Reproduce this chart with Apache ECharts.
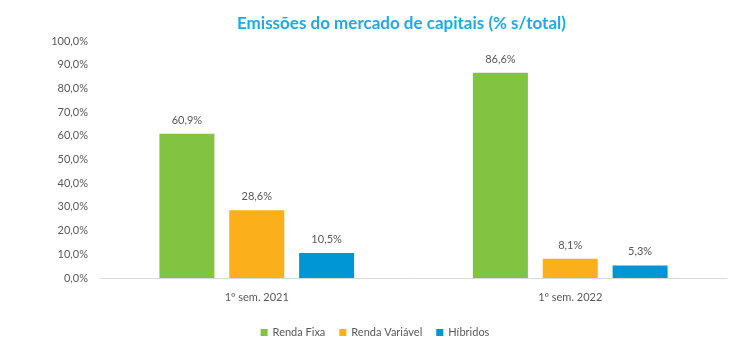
<!DOCTYPE html>
<html><head><meta charset="utf-8">
<script src="https://cdn.jsdelivr.net/npm/echarts@6/dist/echarts.min.js"></script>
<style>html,body{margin:0;padding:0;background:#fff}#c{width:750px;height:355px}</style>
</head><body><div id="c"></div>
<script>
const categories = ['1º sem. 2021', '1º sem. 2022'];
const rendaFixa = [60.9, 86.6];
const rendaVariavel = [28.6, 8.1];
const hibridos = [10.5, 5.3];
const seriesNames = ['Renda Fixa', 'Renda Variável', 'Híbridos'];
const colors = ['#82C341', '#FBAF1A', '#0096D6'];
const fmt = v => v.toFixed(1).replace('.', ',') + '%';
const FONT = 'Lato, "Open Sans", sans-serif';
const chart = echarts.init(document.getElementById('c'));
const mk = (name, data, color) => ({
  name, type: 'bar', data, barWidth: 55, barGap: '27%',
  itemStyle: { color },
  label: { show: true, position: 'top', distance: 8, formatter: p => fmt(p.value), color: '#595959', fontSize: 11, fontFamily: FONT }
});
chart.setOption({
  animation: false,
  title: { text: 'Emissões do mercado de capitais (% s/total)', left: 232, top: 10,
    textStyle: { color: '#1AABEF', fontSize: 17, fontWeight: 'bold', fontFamily: FONT } },
  legend: { bottom: 12, left: 'center', itemWidth: 7, itemHeight: 7, itemGap: 14, icon: 'rect',
    textStyle: { color: '#595959', fontSize: 11, fontFamily: FONT }, data: seriesNames },
  grid: { left: 100, right: 23, top: 41, bottom: 77 },
  xAxis: { type: 'category', data: categories,
    axisLine: { lineStyle: { color: '#D9D9D9' } }, axisTick: { show: false },
    axisLabel: { color: '#595959', fontSize: 11, fontFamily: FONT, margin: 14 } },
  yAxis: { type: 'value', min: 0, max: 100, interval: 10,
    axisLine: { show: false }, axisTick: { show: false }, splitLine: { show: false },
    axisLabel: { color: '#595959', fontSize: 11, fontFamily: FONT, margin: 12, formatter: v => fmt(v) } },
  series: [mk(seriesNames[0], rendaFixa, colors[0]), mk(seriesNames[1], rendaVariavel, colors[1]), mk(seriesNames[2], hibridos, colors[2])]
});
</script></body></html>
